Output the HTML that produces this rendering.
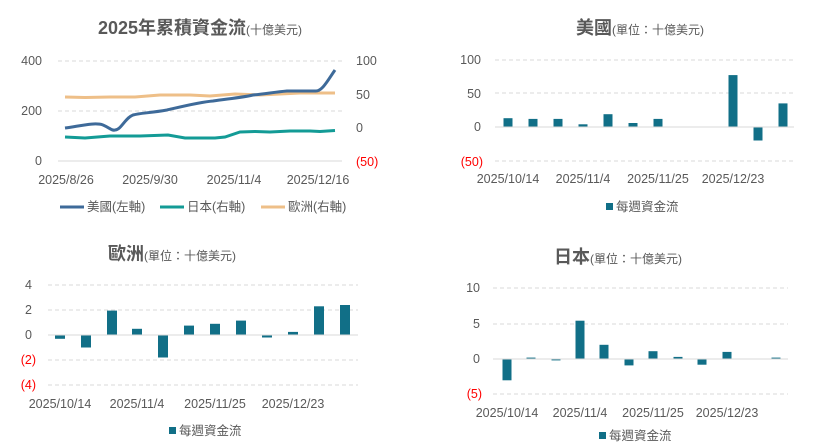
<!DOCTYPE html>
<html><head><meta charset="utf-8"><style>
body{margin:0;background:#fff}
svg{display:block;font-family:"Liberation Sans","Noto Sans CJK TC",sans-serif}
.t{fill:#595959;font-size:12.5px}
.r{fill:#ff0000;font-size:12.5px}
.g{stroke:#d9d9d9;stroke-width:1;stroke-dasharray:4,3}
.b{fill:#116f87}
.ttl{fill:#595959;font-size:18px;font-weight:bold}
.sm{font-size:12px;font-weight:normal}
</style></head><body>
<svg width="814" height="448" viewBox="0 0 814 448">
<!-- Chart 1 -->
<text class="ttl" x="200" y="34" text-anchor="middle">2025年累積資金流<tspan class="sm">(十億美元)</tspan></text>
<line class="g" x1="58" y1="61" x2="342" y2="61"/>
<line class="g" x1="58" y1="111" x2="342" y2="111"/>
<line x1="58" y1="161" x2="342" y2="161" stroke="#d9d9d9"/>
<text class="t" x="42" y="65" text-anchor="end">400</text>
<text class="t" x="42" y="115" text-anchor="end">200</text>
<text class="t" x="42" y="165" text-anchor="end">0</text>
<text class="t" x="356" y="65">100</text>
<text class="t" x="356" y="99">50</text>
<text class="t" x="356" y="132">0</text>
<text class="r" x="356" y="166">(50)</text>
<text class="t" x="66" y="184" text-anchor="middle">2025/8/26</text>
<text class="t" x="150" y="184" text-anchor="middle">2025/9/30</text>
<text class="t" x="234" y="184" text-anchor="middle">2025/11/4</text>
<text class="t" x="318" y="184" text-anchor="middle">2025/12/16</text>
<polyline fill="none" stroke="#eebf88" stroke-width="3" points="65,97 85,97.5 110,97 135,97 160,95 190,95 210,96 235,94 260,95 280,94 300,93 335,93"/>
<polyline fill="none" stroke="#139b96" stroke-width="3" points="65,137 85,138 110,136 140,136 168,135 185,138 215,138 225,137 240,132 255,131.5 270,132 290,131 310,131 320,131.5 335,130.5"/>
<path fill="none" stroke="#3e6a99" stroke-width="3" d="M65,128 C80,126 95,122 103,125 C110,128 112,131 115,130 C121,130 125,118 133,115 C140,113 150,113 167,110 C180,107 200,102 213,101 C225,99 240,98 253,95 C265,94 275,92 287,91 L315,91 C322,92 328,80 335,70"/>
<line x1="60" y1="207" x2="84" y2="207" stroke="#3e6a99" stroke-width="3"/>
<text class="t" x="87" y="211">美國(左軸)</text>
<line x1="160" y1="207" x2="184" y2="207" stroke="#139b96" stroke-width="3"/>
<text class="t" x="187" y="211">日本(右軸)</text>
<line x1="261" y1="207" x2="285" y2="207" stroke="#eebf88" stroke-width="3"/>
<text class="t" x="288" y="211">歐洲(右軸)</text>

<!-- Chart 2 US -->
<text class="ttl" x="640" y="34" text-anchor="middle">美國<tspan class="sm">(單位：十億美元)</tspan></text>
<line class="g" x1="495" y1="60" x2="794" y2="60"/>
<line class="g" x1="495" y1="93" x2="794" y2="93"/>
<line class="g" x1="495" y1="161" x2="794" y2="161"/>
<text class="t" x="481" y="64" text-anchor="end">100</text>
<text class="t" x="481" y="98" text-anchor="end">50</text>
<text class="t" x="481" y="131" text-anchor="end">0</text>
<text class="r" x="483" y="166" text-anchor="end">(50)</text>
<g class="b">
<rect x="503.5" y="118.2" width="9" height="8.8"/>
<rect x="528.5" y="118.9" width="9" height="8.1"/>
<rect x="553.5" y="118.9" width="9" height="8.1"/>
<rect x="578.5" y="124.3" width="9" height="2.7"/>
<rect x="603.5" y="114.2" width="9" height="12.8"/>
<rect x="628.5" y="123" width="9" height="4"/>
<rect x="653.5" y="118.9" width="9" height="8.1"/>
<rect x="728.5" y="75.1" width="9" height="51.9"/>
<rect x="753.5" y="127" width="9" height="13.5"/>
<rect x="778.5" y="103.4" width="9" height="23.6"/>
</g>
<line x1="495" y1="127" x2="794" y2="127" stroke="#d9d9d9"/>
<text class="t" x="508" y="183" text-anchor="middle">2025/10/14</text>
<text class="t" x="583" y="183" text-anchor="middle">2025/11/4</text>
<text class="t" x="658" y="183" text-anchor="middle">2025/11/25</text>
<text class="t" x="733" y="183" text-anchor="middle">2025/12/23</text>
<rect class="b" x="606" y="203" width="7" height="7"/>
<text class="t" x="616" y="211">每週資金流</text>

<!-- Chart 3 Europe -->
<text class="ttl" x="172" y="260" text-anchor="middle">歐洲<tspan class="sm">(單位：十億美元)</tspan></text>
<line class="g" x1="48" y1="285" x2="358" y2="285"/>
<line class="g" x1="48" y1="310" x2="358" y2="310"/>
<line class="g" x1="48" y1="360" x2="358" y2="360"/>
<line class="g" x1="48" y1="385" x2="358" y2="385"/>
<text class="t" x="32" y="289" text-anchor="end">4</text>
<text class="t" x="32" y="314" text-anchor="end">2</text>
<text class="t" x="32" y="339" text-anchor="end">0</text>
<text class="r" x="36" y="364" text-anchor="end">(2)</text>
<text class="r" x="36" y="389" text-anchor="end">(4)</text>
<g class="b">
<rect x="55" y="335" width="10" height="3.8"/>
<rect x="81" y="335" width="10" height="12.5"/>
<rect x="107" y="310.6" width="10" height="24.4"/>
<rect x="132" y="328.8" width="10" height="6.2"/>
<rect x="158" y="335" width="10" height="22.5"/>
<rect x="184" y="325.6" width="10" height="9.4"/>
<rect x="210" y="323.8" width="10" height="11.2"/>
<rect x="236" y="320.6" width="10" height="14.4"/>
<rect x="262" y="335" width="10" height="2.5"/>
<rect x="288" y="331.9" width="10" height="3.1"/>
<rect x="314" y="306.3" width="10" height="28.7"/>
<rect x="340" y="305" width="10" height="30"/>
</g>
<line x1="48" y1="335" x2="358" y2="335" stroke="#d9d9d9"/>
<text class="t" x="60" y="408" text-anchor="middle">2025/10/14</text>
<text class="t" x="137" y="408" text-anchor="middle">2025/11/4</text>
<text class="t" x="215" y="408" text-anchor="middle">2025/11/25</text>
<text class="t" x="293" y="408" text-anchor="middle">2025/12/23</text>
<rect class="b" x="169" y="427" width="7" height="7"/>
<text class="t" x="179" y="435">每週資金流</text>

<!-- Chart 4 Japan -->
<text class="ttl" x="618" y="263" text-anchor="middle">日本<tspan class="sm">(單位：十億美元)</tspan></text>
<line class="g" x1="493" y1="288" x2="788" y2="288"/>
<line class="g" x1="493" y1="324" x2="788" y2="324"/>
<line class="g" x1="493" y1="394" x2="788" y2="394"/>
<text class="t" x="480" y="292" text-anchor="end">10</text>
<text class="t" x="480" y="328" text-anchor="end">5</text>
<text class="t" x="480" y="363" text-anchor="end">0</text>
<text class="r" x="482" y="398" text-anchor="end">(5)</text>
<g class="b">
<rect x="502.5" y="359" width="9" height="21.3"/>
<rect x="526.5" y="357.6" width="9" height="1.4"/>
<rect x="551.5" y="359" width="9" height="1.4"/>
<rect x="575.5" y="320.7" width="9" height="38.3"/>
<rect x="599.5" y="344.8" width="9" height="14.2"/>
<rect x="624.5" y="359" width="9" height="6.4"/>
<rect x="648.5" y="351.2" width="9" height="7.8"/>
<rect x="673.5" y="356.9" width="9" height="2.1"/>
<rect x="697.5" y="359" width="9" height="5.7"/>
<rect x="722.5" y="351.9" width="9" height="7.1"/>
<rect x="771.5" y="357.6" width="9" height="1.4"/>
</g>
<line x1="493" y1="359" x2="788" y2="359" stroke="#d9d9d9"/>
<text class="t" x="507" y="417" text-anchor="middle">2025/10/14</text>
<text class="t" x="580" y="417" text-anchor="middle">2025/11/4</text>
<text class="t" x="653" y="417" text-anchor="middle">2025/11/25</text>
<text class="t" x="727" y="417" text-anchor="middle">2025/12/23</text>
<rect class="b" x="599" y="432" width="7" height="7"/>
<text class="t" x="609" y="440">每週資金流</text>
</svg>
</body></html>
